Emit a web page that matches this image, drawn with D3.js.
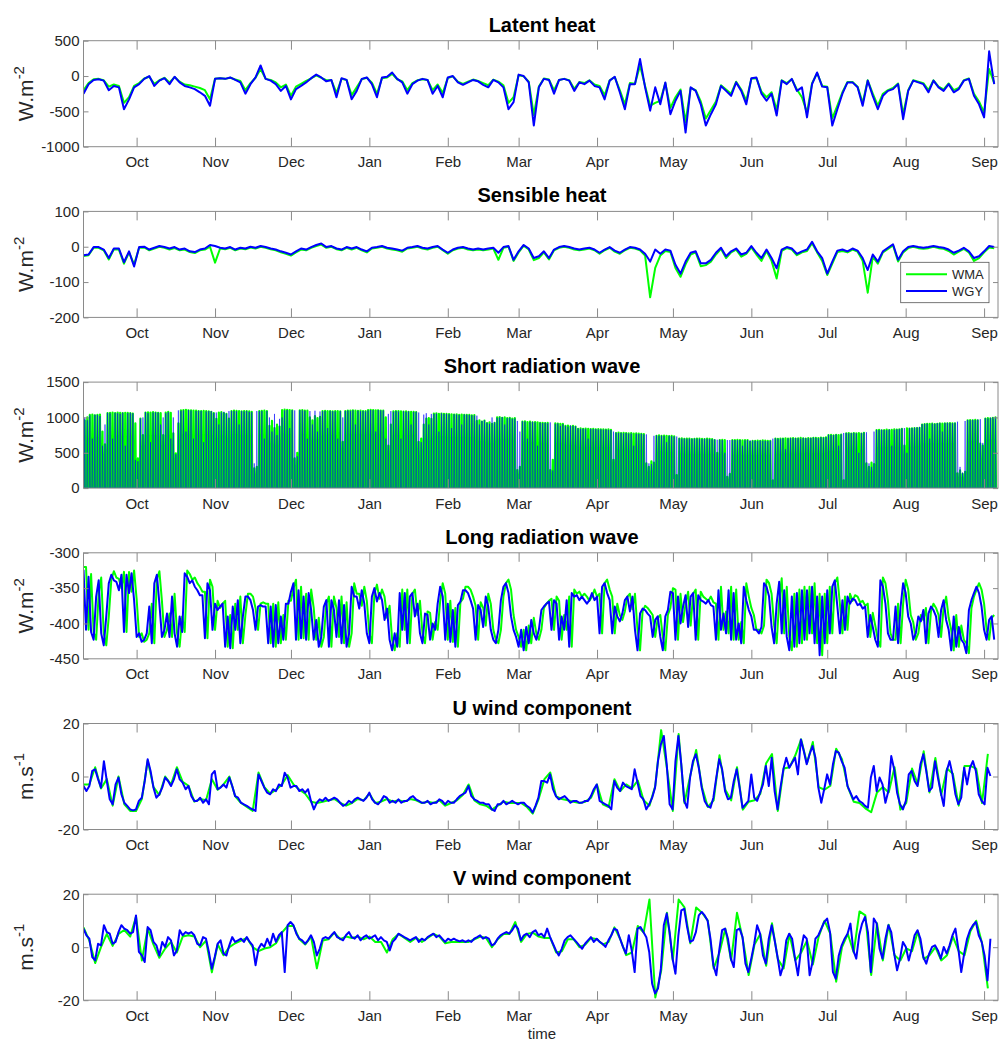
<!DOCTYPE html>
<html><head><meta charset="utf-8">
<script src="https://cdn.jsdelivr.net/npm/d3@7"></script>
<style>body{margin:0;background:#fff}svg{display:block;font-family:"Liberation Sans",Arial,Helvetica,sans-serif}</style>
</head><body><svg id="c" width="1000" height="1043"></svg>
<script>
// ---------- time axis ----------
const START = Date.UTC(2013, 8, 10);
const END_DAYS = 361.5;
const DAY = 864e5;
const SERIES_NAMES = ["WMA", "WGY"];

// ---------- tick labels ----------
const LH_TICKS = [-1000, -500, 0, 500];
const SH_TICKS = [-200, -100, 0, 100];
const SW_TICKS = [0, 500, 1000, 1500];
const LW_TICKS = [-450, -400, -350, -300];
const U_TICKS = [-20, 0, 20];
const V_TICKS = [-20, 0, 20];

// ---------- Latent heat (every 2 days) ----------
const LH_WGY = [-250,-115,-55,-45,-65,-200,-140,-160,-470,-330,
-160,-115,-40,0,-140,-65,-30,-115,-10,-90,
-140,-160,-185,-230,-280,-420,-40,-30,-40,-20,
-55,-90,-250,-115,-20,150,-40,-65,-115,-210,
-140,-330,-185,-140,-90,-30,20,-20,-75,-55,
-300,-30,-55,-330,-210,-40,-20,-115,-300,-20,
-10,50,-40,-90,-250,-115,-65,-40,-55,-250,
-140,-300,-20,0,-90,-125,-90,-55,-75,-125,
-160,-55,-90,-160,-470,-370,20,0,-90,-700,
-160,-40,-55,-250,-55,-40,-65,-210,-90,-115,
-65,-140,-160,-330,-65,-10,-230,-470,-115,-115,
240,-160,-490,-160,-400,-90,-540,-350,-210,-800,
-160,-210,-400,-700,-540,-400,-140,-210,-280,-90,
-210,-400,-30,-20,-250,-350,-250,-560,-65,-115,
-40,-210,-160,-585,-115,50,-150,-160,-700,-470,
-250,-90,-90,-160,-420,-65,-280,-470,-280,-210,
-185,-115,-610,-210,-65,-90,-115,-230,-65,-160,
-210,-115,-230,-185,-65,-40,-280,-400,-585,350,
-115];
const LH_WMA = [-200,-100,-45,-40,-60,-150,-120,-140,-380,-300,
-140,-100,-35,-10,-110,-60,-25,-90,-15,-80,
-120,-130,-150,-170,-200,-330,-40,-30,-40,-25,
-50,-70,-200,-100,-25,100,-40,-55,-90,-160,
-120,-280,-150,-110,-70,-35,10,-25,-60,-60,
-240,-40,-55,-270,-160,-45,-25,-95,-250,-30,
-20,30,-45,-75,-200,-100,-60,-45,-55,-200,
-120,-240,-30,-5,-80,-110,-80,-50,-70,-100,
-130,-50,-80,-130,-380,-300,10,-5,-80,-550,
-150,-35,-50,-200,-55,-40,-60,-180,-85,-100,
-60,-120,-140,-270,-60,-15,-200,-400,-100,-110,
150,-140,-420,-380,-350,-100,-450,-300,-190,-650,
-170,-200,-360,-600,-480,-360,-130,-190,-250,-80,
-190,-350,-40,-30,-220,-300,-230,-480,-60,-100,
-45,-190,-300,-520,-100,40,-140,-150,-600,-420,
-230,-85,-85,-150,-380,-60,-250,-420,-250,-200,
-170,-105,-540,-200,-60,-80,-100,-200,-60,-150,
-190,-105,-200,-170,-60,-35,-250,-360,-520,100,
-100];

// ---------- Sensible heat (every 2 days) ----------
const SH_WGY = [-24,-22,-1,-1,-8,-32,-5,-5,-44,-13,
-56,-1,0,-8,-3,2,-1,-5,-1,-8,
-5,-13,-15,-8,-5,5,2,-3,-5,-1,
-8,-3,-5,0,-3,2,-1,-5,-8,-13,
-17,-22,-13,-5,-8,-1,5,9,-1,2,
-5,-8,-1,-5,-1,-8,-13,-3,-1,2,
-3,-5,-8,-11,-3,-1,2,-3,-5,-1,
2,-8,-17,-8,-3,-1,-5,-8,-5,-8,
-5,-3,-17,-1,2,-37,-13,5,-5,-32,
-27,-13,-32,-8,-1,2,-1,-5,-8,-5,
-3,-8,-17,-8,-1,-11,-17,-8,-1,-3,
-8,-20,-42,-8,-20,-8,-11,-51,-76,-42,
-17,-13,-47,-47,-37,-17,-3,-27,-13,-5,
-22,-17,2,-17,-32,-8,-32,-61,-8,-1,
-5,-20,-13,-8,14,-13,-32,-76,-42,-11,
-8,-13,-5,-11,-32,-66,-22,-42,-13,-3,
7,-37,-13,-1,2,-1,-3,-1,2,-1,
-3,-8,-17,-11,-3,-13,-32,-27,-13,2,-1];
const SH_WMA = [-26,-24,-3,-3,-10,-36,-7,-8,-48,-16,
-50,-3,-2,-10,-5,0,-3,-8,-4,-10,
-8,-15,-18,-10,-8,0,-45,-5,-7,-3,
-10,-5,-7,-2,-5,0,-3,-7,-10,-16,
-20,-25,-16,-8,-10,-3,2,6,-3,0,
-7,-10,-3,-8,-3,-10,-16,-5,-3,0,
-5,-8,-10,-14,-5,-3,0,-5,-8,-3,
0,-10,-20,-10,-5,-3,-8,-10,-8,-10,
-8,-5,-37,-3,0,-40,-16,3,-8,-38,
-32,-16,-36,-10,-3,0,-3,-8,-10,-8,
-5,-10,-20,-10,-3,-14,-20,-10,-3,-5,
-10,-25,-143,-60,-25,-12,-15,-60,-85,-50,
-22,-16,-55,-52,-42,-22,-6,-32,-16,-8,
-28,-20,-2,-22,-40,-12,-40,-90,-12,-4,
-8,-24,-16,-12,10,-16,-40,-80,-48,-15,
-12,-16,-8,-14,-40,-130,-28,-48,-16,-6,
4,-42,-16,-4,0,-4,-6,-4,0,-4,
-6,-12,-22,-14,-6,-16,-40,-32,-16,-2,-4];

// ---------- Short wave: daily peaks ----------
const SW_WMA = [960,1000,1035,1040,1030,1035,1040,800,620,1060,
1065,1068,1062,1070,1065,1060,1066,1064,1060,1055,
915,420,985,750,1070,1072,1068,1075,1070,1065,
1060,750,1070,1080,1065,775,490,915,1100,1105,
1108,1102,1100,1098,1095,1090,1088,1092,1090,1085,
1080,1060,980,1070,1075,1060,1050,985,1090,1095,
1092,1090,1085,1090,1088,1085,1080,280,300,1090,
1092,1095,1088,880,950,850,900,870,1105,1110,
1108,1105,1100,420,500,1100,1105,1098,1095,1000,
960,1020,990,1010,1090,1092,1088,1090,1085,1090,
1088,1085,655,1090,1095,1098,1100,1095,1092,1095,
1090,1088,1105,1108,1105,1100,1102,1098,1095,1000,
600,900,1085,1088,1090,1085,1082,1085,1080,1078,
1080,1075,655,700,900,985,990,980,1055,1058,
1050,1055,1052,1050,1048,1045,1040,1042,1038,1040,
1035,1038,1035,1030,1032,950,960,940,955,920,
930,910,925,1000,1005,995,1000,990,995,985,
990,255,300,940,945,935,940,930,935,930,
925,925,920,922,255,400,915,912,910,908,
880,885,875,880,870,840,845,838,842,840,
835,838,832,835,830,832,828,830,825,400,
780,785,778,782,780,775,778,772,775,770,
768,765,350,300,380,360,740,745,738,742,
740,735,738,732,185,700,705,698,702,700,
695,698,700,702,698,695,700,698,695,680,
500,680,682,678,160,200,680,678,682,680,
675,678,680,655,670,668,672,670,675,672,
670,668,110,700,698,702,700,705,700,705,
708,702,705,710,705,702,708,705,712,710,
708,715,712,718,750,752,748,755,750,758,
110,775,778,772,780,775,778,770,782,350,
300,360,340,820,825,818,822,828,820,825,
830,828,832,840,600,845,842,845,848,850,
852,900,905,910,908,912,905,910,915,912,
918,915,920,918,915,210,250,200,230,960,
962,958,965,960,630,600,985,990,988,995,
1000];
const SW_WGY = [1000,960,1030,700,1040,1035,1020,600,900,1065,
1060,700,1066,1060,1050,1068,600,1062,1065,1058,
400,380,985,1000,1075,1060,650,1070,1072,1068,
900,1000,1060,1075,700,1000,480,1100,1095,1100,
800,1105,1098,700,1090,1095,1092,650,1085,1090,
1088,1065,1070,900,1072,1080,1055,1090,1092,1090,
1088,900,1090,1085,1092,1080,1075,350,1090,1088,
1090,700,1092,1000,800,1050,750,980,1000,1100,
1105,850,1102,1100,450,1102,1100,1095,700,1090,
900,1095,800,1085,1088,1090,850,1092,1088,1085,
700,1090,1000,1090,1098,1092,1100,900,1095,1090,
1092,1085,1100,1105,1102,800,1105,1100,1098,700,
1050,1090,1080,1090,1085,700,1088,1080,1085,900,
1078,1080,1070,650,1040,1060,900,1050,1050,1055,
800,1058,1050,1052,1045,850,1045,1040,1035,900,
1042,1038,1035,1030,1028,1025,900,950,960,925,
910,1000,930,995,1000,1005,900,990,995,980,
985,950,800,945,940,700,935,940,930,600,
925,920,925,918,930,250,910,915,880,905,
880,870,885,880,875,845,840,842,838,700,
840,835,838,830,832,828,830,825,822,800,
785,780,782,775,780,770,772,600,770,765,
768,760,760,350,340,740,745,740,742,738,
650,740,735,730,730,705,700,702,698,700,
698,702,700,698,695,700,698,695,692,690,
685,685,680,500,680,680,682,680,678,680,
600,675,680,678,672,670,668,672,670,668,
665,670,700,705,700,698,705,550,702,708,
705,710,705,700,712,708,705,710,715,712,
705,718,715,720,755,750,752,758,600,760,
780,780,775,778,782,775,500,780,785,790,
350,300,800,825,820,828,822,820,830,600,
825,832,835,845,850,500,848,852,855,860,
865,905,910,912,700,915,910,918,920,800,
922,925,920,918,925,940,300,220,950,965,
960,968,962,970,975,640,990,985,995,1000,
1005];

// ---------- Long wave (daily) ----------
const LW_WGY = [-324,-409,-334,-412,-423,-362,-339,-414,-431,-390,
-343,-331,-339,-341,-353,-331,-412,-331,-357,-329,
-367,-419,-414,-426,-423,-414,-376,-428,-343,-331,
-372,-419,-409,-386,-419,-362,-414,-433,-390,-412,
-329,-334,-343,-339,-348,-353,-360,-360,-421,-343,
-353,-409,-372,-381,-376,-372,-433,-390,-435,-376,
-409,-367,-428,-390,-362,-362,-367,-381,-409,-376,
-374,-376,-376,-428,-376,-433,-374,-428,-390,-423,
-372,-372,-355,-343,-423,-353,-421,-362,-423,-357,
-381,-423,-395,-433,-419,-376,-367,-433,-367,-381,
-419,-367,-428,-374,-433,-414,-348,-362,-362,-379,
-353,-372,-414,-428,-362,-350,-369,-357,-367,-395,
-379,-423,-438,-414,-433,-357,-409,-357,-428,-362,
-357,-390,-372,-414,-428,-386,-388,-423,-400,-409,
-372,-348,-362,-423,-372,-426,-381,-433,-374,-369,
-353,-353,-357,-367,-379,-423,-374,-381,-405,-362,
-376,-409,-423,-428,-409,-367,-348,-343,-357,-390,
-409,-419,-433,-409,-438,-405,-428,-395,-414,-423,
-409,
-381,-376,-372,-369,-409,-367,-372,-423,-390,-409,
-367,-433,-357,-362,-360,-367,-362,-367,-372,-367,
-357,-367,-362,-414,-348,-343,-357,-367,-414,-376,
-390,-397,-386,-367,-362,-383,-362,-409,-438,-386,
-379,-381,-386,-390,-419,-395,-390,-419,-438,
-390,-381,-355,-357,-423,-362,-400,-376,-360,-405,
-362,-357,-423,-360,-367,-369,-372,-367,-374,-376,
-423,-353,-409,-386,-414,-353,-423,-357,-423,-400,
-428,-348,-367,-381,-390,-409,-409,-414,-405,-343,
-348,-362,-405,-428,-372,-341,-414,-353,-419,-438,
-362,-433,-357,-428,-353,-423,-353,-414,-348,-428,
-362,-445,-362,-428,-353,-414,-348,-339,-376,-414,
-367,-409,-362,-372,-365,-367,-374,-372,-379,
-376,-419,-388,-405,-423,-433,-339,-348,-372,-414,
-423,-423,-376,-428,-376,-343,-357,-390,-400,-423,
-414,-390,-397,-381,-428,-386,-376,-381,-390,
-419,-381,-367,-395,-409,-438,-390,-433,-405,
-423,-428,-442,-381,-367,-357,-348,-357,-376,-409,
-423,-395,-390,-423];
const LW_WMA = [-320,
-320,-409,-330,-412,-423,-358,-335,-414,-431,-390,
-338,-326,-335,-337,-350,-327,-412,-327,-355,-325,
-365,-419,-414,-426,-423,-414,-372,-428,-338,-326,
-368,-419,-409,-386,-419,-358,-414,-433,-390,-412,
-325,-330,-338,-335,-343,-348,-355,-355,-421,-338,
-348,-409,-368,-378,-372,-368,-433,-388,-435,-372,
-409,-362,-428,-388,-358,-358,-362,-378,-409,-372,
-370,-372,-372,-428,-372,-433,-370,-428,-388,-423,
-368,-368,-350,-338,-423,-348,-421,-358,-423,-352,
-378,-423,-392,-433,-419,-372,-362,-433,-362,-378,
-419,-362,-428,-370,-433,-414,-343,-358,-358,-375,
-348,-368,-414,-428,-358,-345,-365,-352,-362,-392,
-375,-423,-438,-414,-433,-352,-409,-352,-428,-358,
-352,-388,-368,-414,-428,-383,-385,-423,-398,-409,
-368,-343,-358,-423,-368,-426,-378,-433,-370,-365,
-348,-348,-352,-362,-375,-423,-370,-378,-403,-358,
-372,-409,-423,-428,-409,-362,-343,-338,-352,-388,
-409,-419,-433,-409,-438,-403,-428,-392,-414,-423,
-409,
-378,-372,-368,-365,-409,-362,-368,-423,-388,-409,
-362,-433,-352,-358,-355,-362,-358,-362,-368,-362,
-352,-362,-358,-414,-343,-338,-352,-362,-414,-372,
-388,-395,-383,-362,-358,-380,-358,-409,-438,-383,
-375,-378,-383,-388,-419,-392,-388,-419,-438,
-388,-378,-350,-352,-423,-358,-398,-372,-355,-403,
-358,-352,-423,-355,-362,-365,-368,-362,-370,-372,
-423,-348,-409,-383,-414,-348,-423,-352,-423,-398,
-428,-343,-362,-378,-388,-409,-409,-414,-403,-338,
-343,-358,-403,-428,-368,-336,-414,-348,-419,-438,
-358,-433,-352,-428,-348,-423,-348,-414,-343,-428,
-358,-445,-358,-428,-348,-414,-343,-335,-372,-414,
-362,-409,-358,-368,-360,-362,-370,-368,-375,
-372,-419,-385,-403,-423,-433,-335,-343,-368,-414,
-423,-423,-372,-428,-372,-338,-352,-388,-398,-423,
-414,-388,-395,-378,-428,-383,-372,-378,-388,
-419,-378,-362,-392,-409,-438,-388,-433,-403,
-423,-428,-442,-378,-362,-352,-343,-352,-372,-409,
-423,-392,-388];

// ---------- U wind ----------
const U_WGY = [-3.6,-5.5,-3.6,2.1,2.7,-1,-4.2,5.8,-1.7,-8.6,
-10.5,-3.0,-0.4,-6.7,-9.9,-11.1,-12.4,-12.8,-12.4,-9.2,
-8.0,-1.7,6.5,2.1,-4.2,-8.0,-6.7,-4.2,-0.4,-1.7,
-3.6,-1.1,2.7,-1.1,-2.3,-4.8,-3.6,-7.4,-9.2,-9.2,
-8.0,-9.9,-8.6,-10.5,0.8,2.1,-4.8,-4.2,-3.0,-4.2,
-0.4,-3.6,-7.4,-8.0,-9.9,-10.5,-11.1,-11.8,-12.4,-13.0,
0.8,-1.7,-4.2,-6.1,-6.7,-4.8,-5.5,-3.0,-3.6,1.4,
-0.4,-4.2,-3.6,-3.6,-5.5,-4.8,-6.1,-4.8,-9.2,-12.4,
-9.9,-8.6,-9.2,-8.0,-9.2,-8.6,-8.0,-8.6,-9.9,-11.1,
-10.5,-9.2,-9.9,-8.6,-8.0,-8.6,-9.2,-8.0,-6.1,-8.6,
-9.9,-10.5,-9.2,-7.4,-8.0,-9.9,-9.2,-9.9,-8.6,-9.9,
-9.2,-9.2,-8.0,-7.4,-8.6,-9.2,-9.9,-9.9,-9.2,-10.5,
-9.9,-9.9,-8.6,-9.2,-10.5,-9.2,-9.9,-9.9,-8.6,-7.4,
-6.7,-6.1,-3.6,-7.4,-8.6,-9.2,-9.9,-9.9,-10.5,-10.5,
-12.4,-13.0,-10.5,-10.5,-9.2,-10.5,-9.9,-9.2,-9.9,-10.5,
-9.9,-9.9,-11.1,-11.8,-13.6,-11.1,-8.0,-1.7,-1.7,-2.3,
0.8,-4.8,-7.4,-8.6,-8.0,-7.4,-8.6,-9.9,-9.2,-9.2,
-9.9,-9.9,-9.2,-9.2,-7.4,-4.8,-3.0,-9.2,-9.9,-10.5,
-11.1,-12.4,-1.7,-4.2,-5.5,-2.3,-3.6,-4.2,-4.8,2.7,
-2.3,-7.4,-8.6,-12.4,-10.5,-8.0,-4.2,5.8,12.1,15.3,
4.6,-10.5,-12.4,5.8,15.3,4.6,-9.2,-11.8,-0.4,5.8,
8.4,3.3,-4.2,-9.2,-11.1,-11.8,-8.0,-0.4,6.5,2.7,
-5.5,-8.6,-8.0,-1.7,2.7,-4.2,-11.8,-10.5,-9.2,0.8,
-8.0,-9.2,-6.1,-3.0,4.0,-3.6,7.1,-5.5,-12.4,-4.2,
2.7,7.1,3.3,5.2,7.1,0.8,14.0,9.6,4.6,8.4,
11.5,7.1,-4.2,-9.9,-4.8,0.8,-3.0,4.6,9.6,9.0,
5.8,3.3,-3.6,-6.1,-8.6,-7.4,-9.2,-9.9,-11.1,-11.8,
-0.4,4.0,-5.5,-0.4,-3.0,-9.9,-5.5,7.7,2.7,-6.1,
-10.5,-12.4,-9.2,0.8,2.1,-1.7,-3.6,4.6,8.4,2.1,
-5.5,-4.2,5.8,-0.4,-6.1,-11.1,2.1,5.8,0.8,-6.7,
-10.5,-8.0,3.3,-3.0,3.3,5.8,2.1,-6.7,-9.2,-10.5,
3.3,0.2];
const U_WMA = [-3,-3,3.5,-4.5,-1,-11,0,-10.5,-13,-13,
-8.5,6,-4,-7,0,-3,3.5,-2,-3.5,-9.5,
-8.5,-9,-1,-5,-3,0,-7.5,-10,-11.5,-13,
1.5,-4,-6.5,-5,-3,0.5,-3,-5,-6.5,-9.5,
-10,-9.5,-9,-8.5,-10,-11,-10,-8.5,-9,-6.5,
-10,-9.5,-8.5,-9.5,-9,-9.5,-8.5,-9,-10,-9.5,
-10,-9,-11,-10,-9,-7,-3,-9,-10.5,-11,
-12.5,-11,-9.5,-10,-10,-10,-11.5,-14,-8.5,-1,
1.5,-7.5,-8.5,-9,-9.5,-10,-9.5,-8,-3,-10.5,
-11.5,-1,-5.5,-3,-4.5,-1.5,-9,-11,-3.5,17.5,
3,-13,16,-10,0.5,10,-4,-11.5,-9,8,
-5,-9,3.5,-12.5,-9.5,-9,-6.5,5,8.5,-13,
3,3.5,8,14,5,13,-4,-5,-3.5,10.5,
6.5,-4,-9.5,-10,-12,-13.5,-6,-4,-6,3.5,
-12.5,-10,3,-3,9.5,-6,7,-7,3,1,
-11,4,4,3,-10,8.5];

// ---------- V wind ----------
const V_WGY = [7.0,4.5,3.2,-3.7,-5.0,1.3,0.7,8.3,5.7,5.1,
1.3,2.0,5.7,8.3,7.0,6.4,5.1,5.7,12.0,-1.8,
-3.1,-5.6,7.6,6.4,2.0,0.7,-3.1,2.0,0.1,3.8,
2.6,-3.1,-1.2,6.4,4.5,5.7,5.1,5.7,4.5,1.3,
0.7,3.8,3.2,-1.8,-8.1,-3.7,1.3,2.6,-2.4,-3.1,
0.7,3.8,2.0,2.6,3.2,2.0,3.8,2.0,0.7,-6.8,
-0.6,1.3,0.1,3.2,0.7,5.1,2.0,4.5,5.7,-9.4,
8.3,9.5,8.3,5.1,3.2,2.6,1.3,2.6,4.5,2.0,
-3.1,-0.6,3.2,3.8,3.2,4.5,5.7,3.8,3.2,2.6,
4.5,5.7,3.8,3.2,4.5,2.6,3.8,4.5,3.2,3.8,
4.5,2.6,3.8,2.6,2.0,-1.2,2.0,3.2,5.1,4.5,
3.8,3.2,2.6,3.2,3.8,2.0,3.2,2.6,3.8,4.5,
5.1,3.8,4.5,3.2,2.0,3.2,2.6,3.2,2.6,2.2,
2.6,2.0,2.6,2.0,3.2,3.8,4.5,3.2,3.8,3.2,
0.7,1.3,3.2,4.5,5.1,5.7,5.1,6.4,8.3,7.0,
2.6,4.5,5.1,3.8,5.7,6.4,4.5,5.1,3.8,7.0,
3.8,1.3,-1.2,-3.1,-0.6,2.6,3.8,4.5,3.2,2.0,
0.7,-0.6,1.3,2.6,3.8,2.0,3.2,2.0,1.3,0.1,
2.6,4.5,7.0,6.4,3.2,0.1,-2.4,4.5,-1.2,-9.4,
7.0,7.6,5.7,3.8,-1.8,-13.8,-17.5,-15.6,-8.1,8.3,
12.7,5.7,-4.3,-10.0,4.5,13.9,14.5,7.6,2.0,2.6,
5.7,12.0,13.3,12.0,10.1,3.2,-6.8,-10.6,-1.2,6.4,
7.0,3.2,-4.3,-7.5,6.4,7.0,3.8,-6.2,-9.4,-4.3,
1.3,8.3,5.1,-3.1,-6.2,3.2,8.3,2.6,-3.7,-10.6,
-6.8,2.6,5.1,3.2,-4.3,-10.6,-1.2,4.5,3.2,-10.6,
-5.6,3.2,4.5,7.0,9.5,10.8,5.7,-9.4,-11.9,-3.1,
0.7,3.2,5.1,8.9,-1.2,-4.3,4.5,8.9,11.4,5.7,
-9.4,10.8,8.9,-0.6,-4.3,3.2,8.3,5.7,-2.4,-8.7,
-4.3,2.0,0.1,-5.0,-0.6,4.5,6.4,3.2,-3.7,-6.2,
-2.4,0.1,0.7,-1.2,-4.3,0.1,-2.4,0.7,4.5,7.0,
-0.6,-9.4,-2.4,3.2,6.4,8.3,9.5,4.5,2.0,-3.1,
-12.5,3.2];
const V_WMA = [7.5,2.5,-6,0,5,0.5,5,6.5,4,11.5,
-5,7,1,-4,-0.5,2,-2,4,4.5,4,
0,2.5,-9.5,1,-3,0,1.5,2.5,3.5,0,
-1.5,-0.5,0,1.5,5.5,8,8,3,1,4,
-8,2.5,3,5.5,3,4,3.5,4,3,4,
2,2,-2,3,5,3.5,2,3.5,2,3.5,
5,4,1.5,2,2,2,2,3,4,3.5,
0,3,5,5,9.5,2,5,5.5,4,3.5,
3.5,-2,-1.5,3,3,0,1,3.5,3,1,
2,7.5,3,-3,-2,8,5.5,18,-19,-9,
13,-5,18,15,1.5,15,13,10,-8,-2,
7,-5,13,3,-10.5,1,5,-7,9,-4.5,
-8,5,-5,-2,2.5,-6.5,4,10,5,-13,
0,5,-2,13.5,12,-10.5,9,-5,8.5,-3,
-5,-0.5,-1.5,6,-4.5,-3,0,-5,-3,4,
-1.5,-3,6,10,1.5,-15.5];

// ---------- layout ----------
const LEFT = 83.5, RIGHT = 998;
const TOP0 = 40.7, STEP = 170.7, PH = 106;
const COLORS = {WMA: "#00ff00", WGY: "#0000ff"};
const AXC = "#8a8a8a", TXT = "#262626";

const panels = [
  {title: "Latent heat", unit: "W.m", exp: "-2", dom: [-1000, 500], ticks: LH_TICKS,
   series: [{name: "WMA", v: LH_WMA, span: 360}, {name: "WGY", v: LH_WGY, span: 360}]},
  {title: "Sensible heat", unit: "W.m", exp: "-2", dom: [-200, 100], ticks: SH_TICKS, legend: true,
   series: [{name: "WMA", v: SH_WMA, span: 360}, {name: "WGY", v: SH_WGY, span: 360}]},
  {title: "Short radiation wave", unit: "W.m", exp: "-2", dom: [0, 1500], ticks: SW_TICKS, spikes: true,
   series: [{name: "WMA", v: SW_WMA}, {name: "WGY", v: SW_WGY}]},
  {title: "Long radiation wave", unit: "W.m", exp: "-2", dom: [-450, -300], ticks: LW_TICKS,
   series: [{name: "WMA", v: LW_WMA, span: 360}, {name: "WGY", v: LW_WGY, span: 360}]},
  {title: "U wind component", unit: "m.s", exp: "-1", dom: [-20, 20], ticks: U_TICKS,
   series: [{name: "WMA", v: U_WMA, span: 357.5}, {name: "WGY", v: U_WGY, span: 358.5}]},
  {title: "V wind component", unit: "m.s", exp: "-1", dom: [-20, 20], ticks: V_TICKS, xlabel: "time",
   series: [{name: "WMA", v: V_WMA, span: 357.5}, {name: "WGY", v: V_WGY, span: 358.5}]}
];

const svg = d3.select("#c");
const dayDate = d => new Date(START + d * DAY);
const x = d3.scaleUtc().domain([dayDate(0), dayDate(END_DAYS)]).range([LEFT, RIGHT]);
const monthTicks = d3.utcMonth.range(dayDate(0), dayDate(END_DAYS));
const numFmt = d => String(d);

panels.forEach((p, i) => {
  const top = TOP0 + i * STEP, bot = top + PH;
  const y = d3.scaleLinear().domain(p.dom).range([bot, top]);
  const g = svg.append("g");
  const clipId = "clip" + i;
  svg.append("clipPath").attr("id", clipId).append("rect")
    .attr("x", LEFT).attr("y", top).attr("width", RIGHT - LEFT).attr("height", PH);

  const plot = g.append("g").attr("clip-path", `url(#${clipId})`);
  const line = d3.line().x(d => x(d[0])).y(d => y(d[1]));

  p.series.forEach(s => {
    let pts;
    if (p.spikes) {
      pts = [];
      s.v.forEach((pk, d) => {
        pts.push([dayDate(d + 0.3), 0], [dayDate(d + 0.5), pk], [dayDate(d + 0.7), 0]);
      });
    } else {
      const n = s.v.length;
      pts = s.v.map((v, k) => [dayDate(k * s.span / (n - 1)), v]);
    }
    plot.append("path").datum(pts).attr("d", line)
      .attr("fill", "none").attr("stroke", COLORS[s.name])
      .attr("stroke-width", p.spikes ? (s.name === "WMA" ? 2.2 : 0.8) : 2)
      .attr("stroke-opacity", p.spikes && s.name === "WGY" ? 0.65 : 1)
      .attr("stroke-linejoin", "round");
  });

  // axes
  const ax = d3.axisBottom(x).tickValues(monthTicks).tickFormat(d3.utcFormat("%b"))
    .tickSize(-9).tickPadding(10);
  const gb = g.append("g").attr("transform", `translate(0,${bot})`).call(ax);
  const gt = g.append("g").attr("transform", `translate(0,${top})`)
    .call(d3.axisTop(x).tickValues(monthTicks).tickFormat("").tickSize(-9));
  const gl = g.append("g").attr("transform", `translate(${LEFT},0)`)
    .call(d3.axisLeft(y).tickValues(p.ticks).tickFormat(numFmt).tickSize(-5).tickPadding(4));
  const gr = g.append("g").attr("transform", `translate(${RIGHT},0)`)
    .call(d3.axisRight(y).tickValues(p.ticks).tickFormat("").tickSize(-5));
  [gb, gt, gl, gr].forEach(a => {
    a.select(".domain").remove();
    a.selectAll("line").attr("stroke", AXC);
    a.selectAll("text").attr("fill", TXT).attr("font-size", 15)
      .attr("font-family", '"Liberation Sans", Arial, sans-serif');
  });
  g.append("rect").attr("x", LEFT).attr("y", top).attr("width", RIGHT - LEFT).attr("height", PH)
    .attr("fill", "none").attr("stroke", AXC).attr("stroke-width", 1);

  // title
  g.append("text").attr("x", 542).attr("y", top - 9).attr("text-anchor", "middle")
    .attr("font-size", 20).attr("font-weight", "bold").attr("fill", "#000").text(p.title);

  // y label
  const yl = g.append("text").attr("transform", `translate(33,${top + PH / 2}) rotate(-90)`)
    .attr("text-anchor", "middle").attr("font-size", 21).attr("fill", TXT);
  yl.append("tspan").text(p.unit);
  yl.append("tspan").attr("dy", -9).attr("font-size", 15).text(p.exp);

  if (p.xlabel) {
    g.append("text").attr("x", 542).attr("y", bot + 39).attr("text-anchor", "middle")
      .attr("font-size", 15).attr("fill", TXT).text(p.xlabel);
  }

  if (p.legend) {
    const lg = g.append("g");
    lg.append("rect").attr("x", 900.7).attr("y", top + 50.9).attr("width", 88.3).attr("height", 40.4)
      .attr("fill", "#fff").attr("stroke", "#555").attr("stroke-width", 0.8);
    SERIES_NAMES.forEach((nm, k) => {
      const yy = top + 62.9 + k * 16.7;
      lg.append("line").attr("x1", 906).attr("x2", 947).attr("y1", yy).attr("y2", yy)
        .attr("stroke", COLORS[nm]).attr("stroke-width", 2);
      lg.append("text").attr("x", 952).attr("y", yy).attr("dy", "0.35em")
        .attr("font-size", 13).attr("fill", TXT).text(nm);
    });
  }
});
</script></body></html>
